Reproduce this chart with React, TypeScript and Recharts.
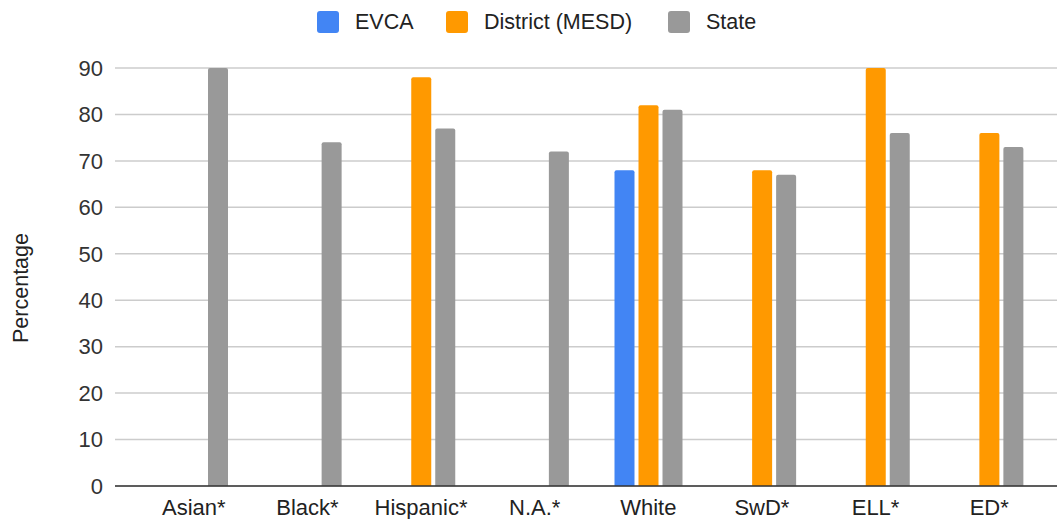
import { BarChart, Bar, XAxis, YAxis, CartesianGrid, Label } from "recharts";

const categories = ["Asian*", "Black*", "Hispanic*", "N.A.*", "White", "SwD*", "ELL*", "ED*"];
const evca = [null, null, null, null, 68, null, null, null];
const district = [null, null, 88, null, 82, 68, 90, 76];
const state = [90, 74, 77, 72, 81, 67, 76, 73];
const yTicks = [0, 10, 20, 30, 40, 50, 60, 70, 80, 90];

const series = [
  { key: "EVCA", label: "EVCA", color: "#4285F4", values: evca },
  { key: "District", label: "District (MESD)", color: "#FF9900", values: district },
  { key: "State", label: "State", color: "#999999", values: state },
];

const data = categories.map((name, i) => {
  const row: Record<string, string | number | null> = { name };
  series.forEach((s) => {
    row[s.key] = s.values[i];
  });
  return row;
});

const FONT = "Arial, 'Liberation Sans', sans-serif";
const legendLeft = [317, 446, 668];

export default function App() {
  return (
    <div style={{ position: "absolute", left: 0, top: 0, width: 1057, height: 519, fontFamily: FONT }}>
      {series.map((s, i) => (
        <div
          key={s.key}
          style={{
            position: "absolute",
            left: legendLeft[i],
            top: 11,
            height: 22,
            display: "flex",
            alignItems: "center",
            whiteSpace: "nowrap",
          }}
        >
          <span style={{ width: 22, height: 22, borderRadius: 3, background: s.color, display: "inline-block" }} />
          <span style={{ marginLeft: 16, fontSize: 21.5, color: "#222" }}>{s.label}</span>
        </div>
      ))}
      <BarChart
        width={1057}
        height={519}
        data={data}
        margin={{ top: 68, right: 0, left: 0, bottom: 0 }}
        barSize={20}
        barGap={4}
      >
        <CartesianGrid vertical={false} stroke="#cccccc" strokeWidth={1.5} />
        <XAxis
          dataKey="name"
          height={33}
          padding={{ left: 22, right: 11 }}
          tickLine={false}
          tickSize={0}
          tickMargin={13}
          axisLine={{ stroke: "#333", strokeWidth: 1.5 }}
          tick={{ fill: "#222", fontSize: 22, fontFamily: FONT }}
          interval={0}
        />
        <YAxis
          width={115}
          domain={[0, 90]}
          ticks={yTicks}
          axisLine={false}
          tickLine={false}
          tickSize={0}
          tickMargin={12}
          tick={{ fill: "#333", fontSize: 22, fontFamily: FONT }}
        >
          <Label
            content={() => (
              <text
                x={28}
                y={288}
                transform="rotate(-90 28 288)"
                textAnchor="middle"
                fill="#222"
                fontSize={21.5}
                fontFamily={FONT}
              >
                Percentage
              </text>
            )}
          />
        </YAxis>
        {series.map((s) => (
          <Bar key={s.key} dataKey={s.key} fill={s.color} radius={[2, 2, 0, 0]} isAnimationActive={false} />
        ))}
      </BarChart>
    </div>
  );
}
